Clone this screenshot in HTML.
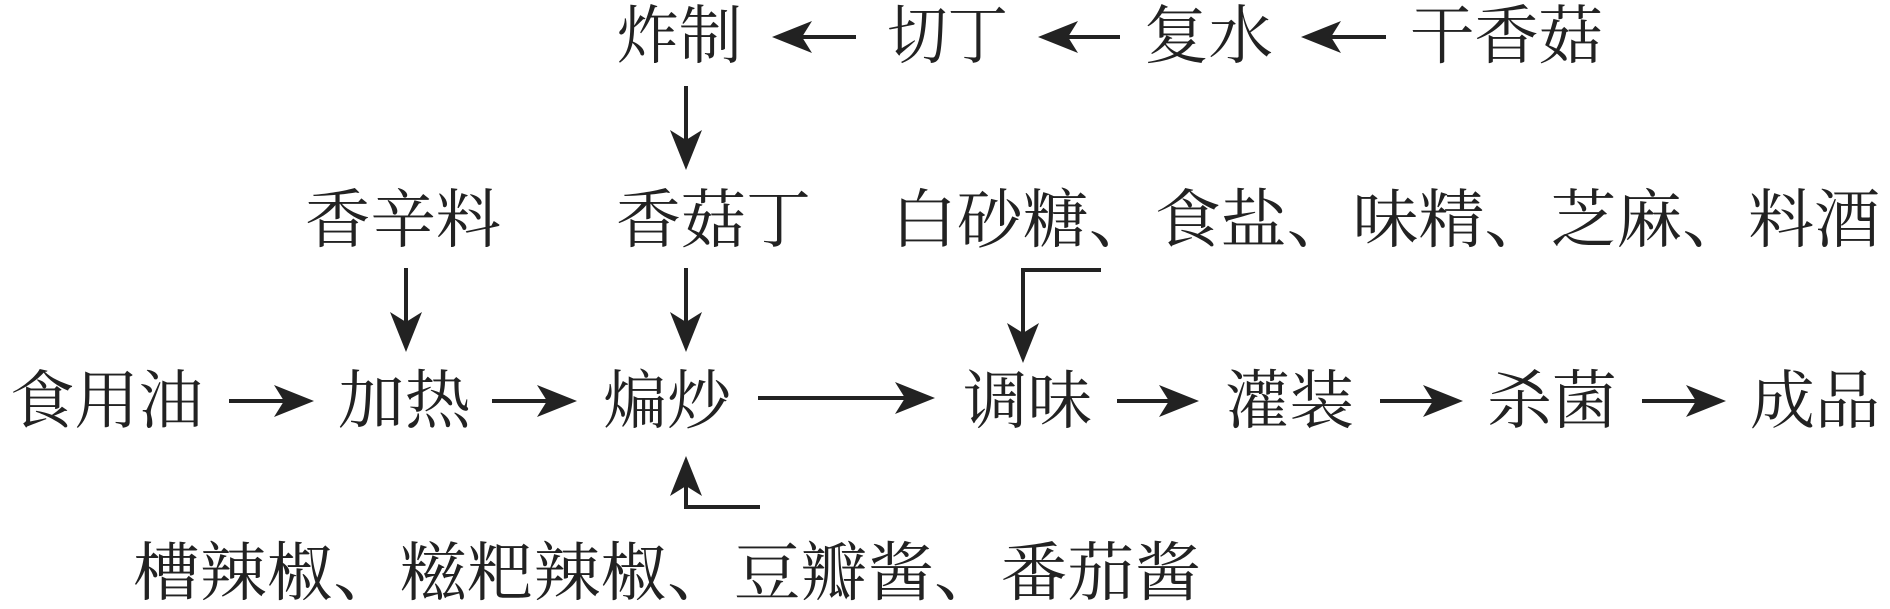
<!DOCTYPE html>
<html><head><meta charset="utf-8"><style>html,body{margin:0;padding:0;background:#fff}svg{display:block}</style></head>
<body>
<svg width="1890" height="609" viewBox="0 0 1890 609" xmlns="http://www.w3.org/2000/svg">
<defs>
<marker id="a" markerWidth="12" markerHeight="10" refX="10" refY="5" orient="auto" markerUnits="userSpaceOnUse" viewBox="0 0 12 10">
</marker>
</defs>
<g font-family="'Liberation Serif','Noto Serif CJK SC',serif" font-size="64" fill="#222" lengthAdjust="spacingAndGlyphs">
<text x="616" y="58" textLength="126" lengthAdjust="spacingAndGlyphs">炸制</text>
<text x="887" y="58" textLength="121" lengthAdjust="spacingAndGlyphs">切丁</text>
<text x="1144" y="58" textLength="129" lengthAdjust="spacingAndGlyphs">复水</text>
<text x="1410" y="58" textLength="193" lengthAdjust="spacingAndGlyphs">干香菇</text>
<text x="305" y="242" textLength="196" lengthAdjust="spacingAndGlyphs">香辛料</text>
<text x="616" y="242" textLength="195" lengthAdjust="spacingAndGlyphs">香菇丁</text>
<text x="891" y="242" textLength="989" lengthAdjust="spacingAndGlyphs">白砂糖、食盐、味精、芝麻、料酒</text>
<text x="10" y="423" textLength="193" lengthAdjust="spacingAndGlyphs">食用油</text>
<text x="338" y="423" textLength="133" lengthAdjust="spacingAndGlyphs">加热</text>
<text x="603" y="423" textLength="128" lengthAdjust="spacingAndGlyphs">煸炒</text>
<text x="963" y="423" textLength="129" lengthAdjust="spacingAndGlyphs">调味</text>
<text x="1225" y="423" textLength="129" lengthAdjust="spacingAndGlyphs">灌装</text>
<text x="1487" y="423" textLength="130" lengthAdjust="spacingAndGlyphs">杀菌</text>
<text x="1750" y="423" textLength="130" lengthAdjust="spacingAndGlyphs">成品</text>
<text x="133" y="595" textLength="1068" lengthAdjust="spacingAndGlyphs">槽辣椒、糍粑辣椒、豆瓣酱、番茄酱</text>
</g>
<g stroke="#222" stroke-width="4" fill="none">
<!-- row1 left arrows -->
<line x1="856" y1="37" x2="790" y2="37"/>
<line x1="1120" y1="37" x2="1056" y2="37"/>
<line x1="1386" y1="37" x2="1319" y2="37"/>
<!-- verticals -->
<line x1="686" y1="86" x2="686" y2="150"/>
<line x1="406" y1="268" x2="406" y2="332"/>
<line x1="686" y1="268" x2="686" y2="332"/>
<polyline points="1101,270 1023,270 1023,343"/>
<polyline points="760,507 686,507 686,476"/>
<!-- row3 -->
<line x1="229" y1="401" x2="296" y2="401"/>
<line x1="492" y1="401" x2="559" y2="401"/>
<line x1="758" y1="398" x2="915" y2="398"/>
<line x1="1117" y1="401" x2="1181" y2="401"/>
<line x1="1380" y1="401" x2="1445" y2="401"/>
<line x1="1642" y1="401" x2="1708" y2="401"/>
</g>
<g fill="#222">
<!-- left heads: tip at x,y -->
<polygon points="772,37 812,21 802,37 812,53"/>
<polygon points="1038,37 1078,21 1068,37 1078,53"/>
<polygon points="1301,37 1341,21 1331,37 1341,53"/>
<!-- down heads -->
<polygon points="686,170 670,130 686,140 702,130"/>
<polygon points="406,352 390,312 406,322 422,312"/>
<polygon points="686,352 670,312 686,322 702,312"/>
<polygon points="1023,363 1007,323 1023,333 1039,323"/>
<!-- up head -->
<polygon points="686,456 670,496 686,486 702,496"/>
<!-- right heads -->
<polygon points="314,401 274,385 284,401 274,417"/>
<polygon points="577,401 537,385 547,401 537,417"/>
<polygon points="935,398 895,382 905,398 895,414"/>
<polygon points="1199,401 1159,385 1169,401 1159,417"/>
<polygon points="1463,401 1423,385 1433,401 1423,417"/>
<polygon points="1726,401 1686,385 1696,401 1686,417"/>
</g>
</svg>
</body></html>
